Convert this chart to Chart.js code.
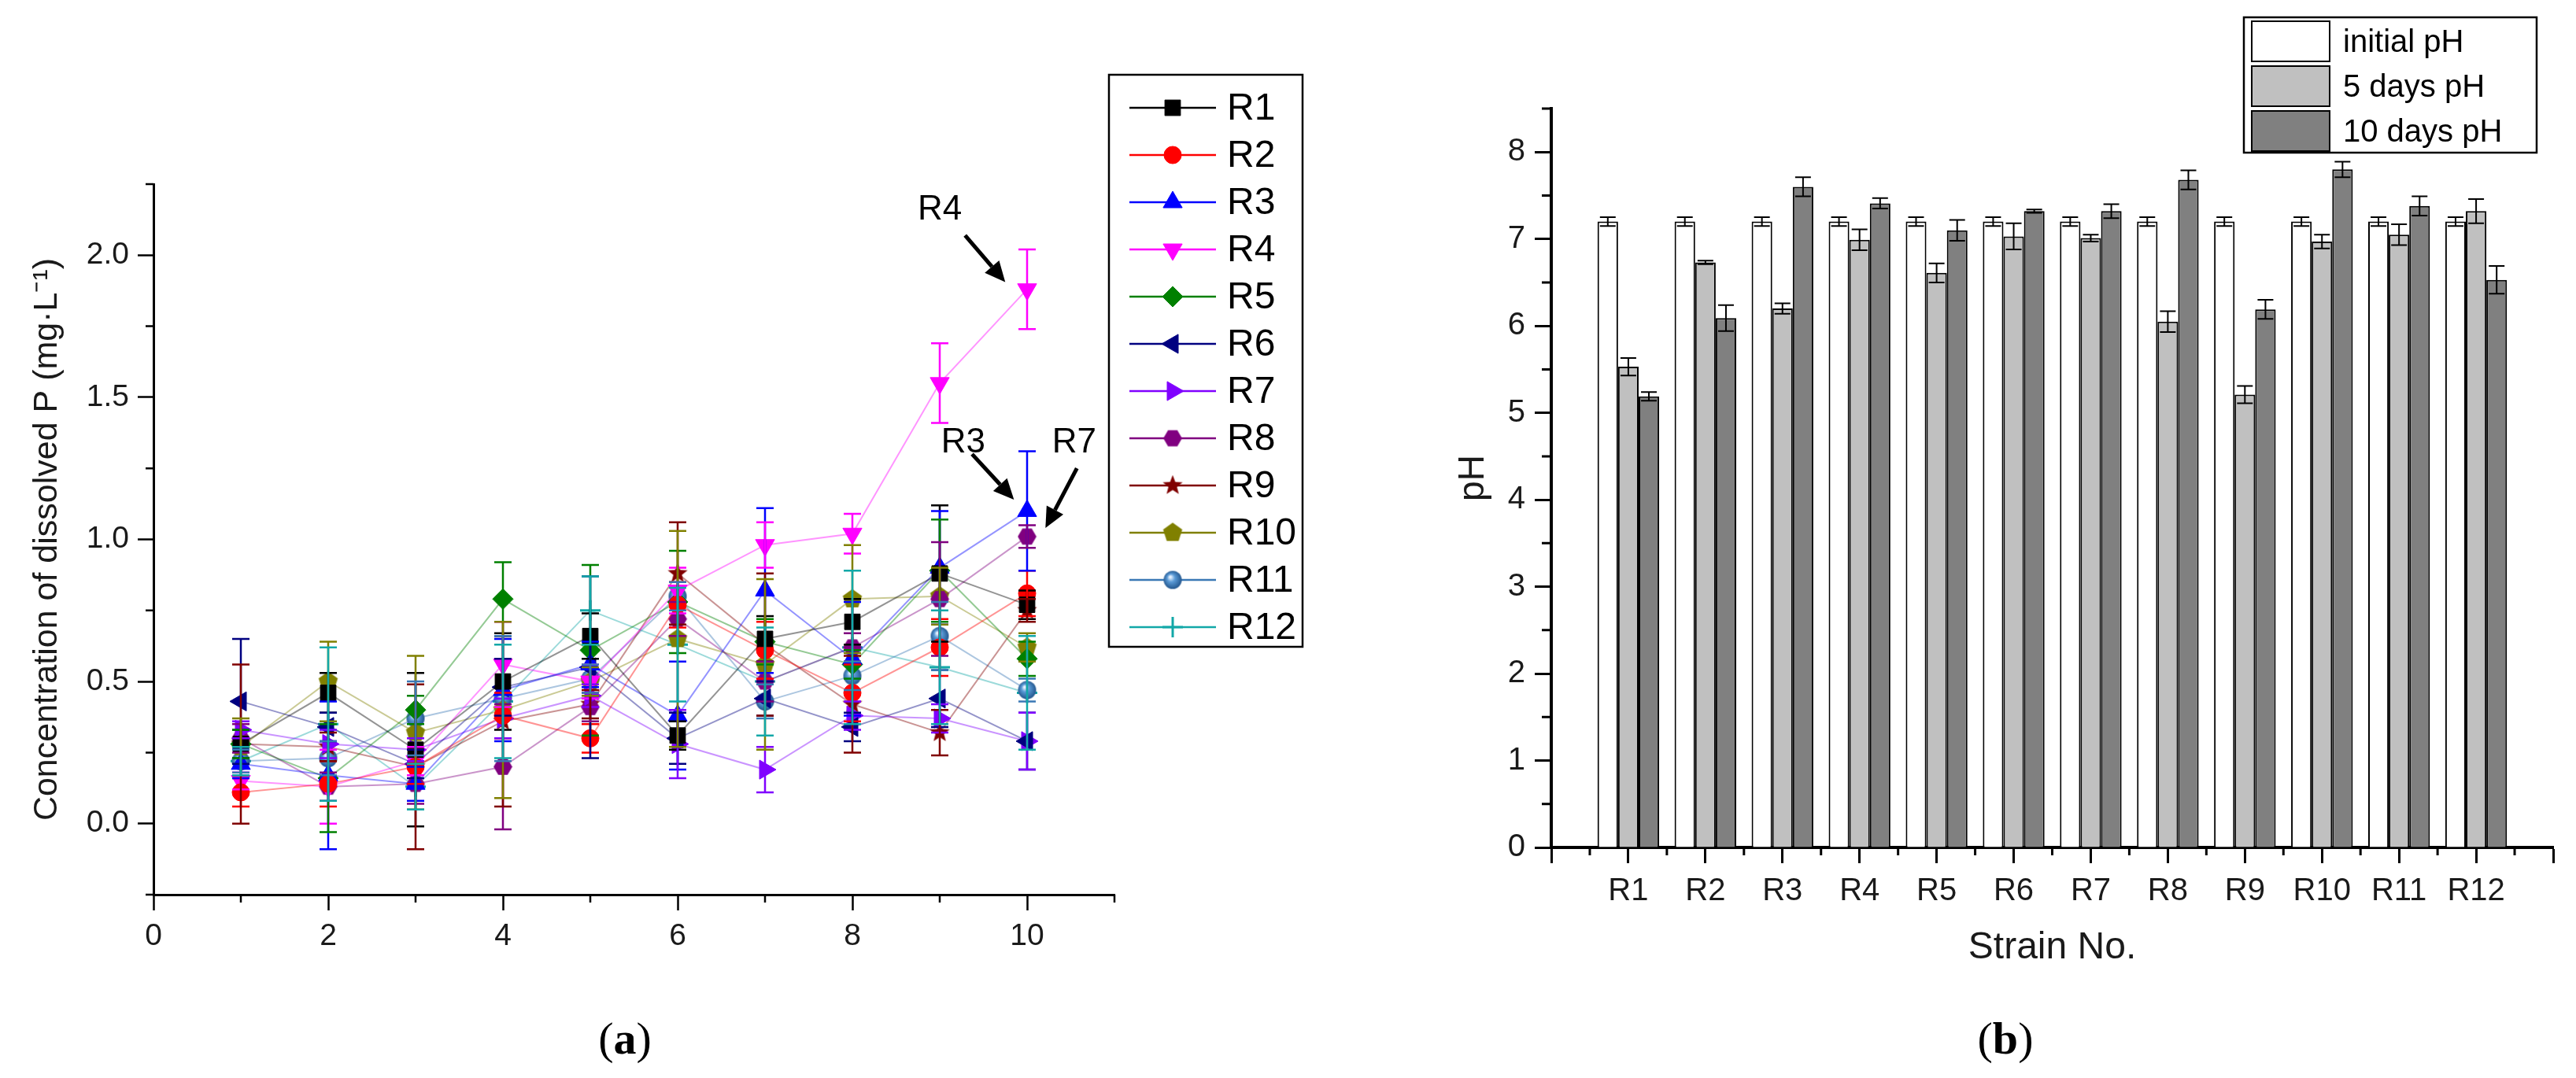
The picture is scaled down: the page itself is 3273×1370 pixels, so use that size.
<!DOCTYPE html>
<html>
<head>
<meta charset="utf-8">
<script src="https://cdn.jsdelivr.net/npm/chart.js@4.4.1/dist/chart.umd.min.js"></script>
<style>
  body { margin: 0; background: #fff; width: 3273px; height: 1370px; overflow: hidden; position: relative; }
  canvas { position: absolute; top: 0; }
  #phosphate { left: 0; }
  #ph { left: 1650px; }
  .caption { position: absolute; top: 1286px; transform: translateX(-50%); font-family: "Liberation Serif", "DejaVu Serif", serif; font-size: 58px; color: #000; }
</style>
</head>
<body>
<canvas id="phosphate" width="1660" height="1260"></canvas>
<canvas id="ph" width="1623" height="1260"></canvas>
<div class="caption" style="left:794px">(<b>a</b>)</div>
<div class="caption" style="left:2548px">(<b>b</b>)</div>

<script>
// ---- (a) dissolved P, mg/L, per sampling point ----
const days = [1, 2, 3, 4, 5, 6, 7, 8, 9, 10];
const strains = ["R1", "R2", "R3", "R4", "R5", "R6", "R7", "R8", "R9", "R10", "R11", "R12"];

const R1  = [0.28, 0.46, 0.26, 0.50, 0.66, 0.31, 0.65, 0.71, 0.88, 0.77];
const R2  = [0.11, 0.14, 0.20, 0.38, 0.30, 0.77, 0.61, 0.46, 0.62, 0.81];
const R3  = [0.21, 0.17, 0.14, 0.47, 0.56, 0.38, 0.82, 0.58, 0.90, 1.10];
const R4  = [0.15, 0.13, 0.22, 0.56, 0.50, 0.82, 0.98, 1.02, 1.55, 1.88];
const R5  = [0.28, 0.16, 0.40, 0.79, 0.61, 0.78, 0.64, 0.56, 0.89, 0.58];
const R6  = [0.43, 0.34, 0.21, 0.48, 0.55, 0.30, 0.44, 0.34, 0.44, 0.29];
const R7  = [0.33, 0.28, 0.26, 0.37, 0.45, 0.28, 0.19, 0.38, 0.37, 0.29];
const R8  = [0.30, 0.13, 0.14, 0.20, 0.41, 0.72, 0.50, 0.62, 0.79, 1.01];
const R9  = [0.28, 0.27, 0.20, 0.36, 0.42, 0.88, 0.63, 0.42, 0.32, 0.75];
const R10 = [0.27, 0.50, 0.32, 0.40, 0.50, 0.65, 0.56, 0.79, 0.80, 0.62];
const R11 = [0.22, 0.23, 0.37, 0.44, 0.51, 0.80, 0.43, 0.52, 0.66, 0.47];
const R12 = [0.22, 0.35, 0.13, 0.43, 0.75, 0.63, 0.50, 0.62, 0.55, 0.46];

const R1err  = [0.05, 0.07, 0.27, 0.17, 0.08, 0.05, 0.08, 0.08, 0.24, 0.05];
const R2err  = [0.05, 0.08, 0.06, 0.08, 0.05, 0.08, 0.10, 0.10, 0.10, 0.08];
const R3err  = [0.05, 0.26, 0.06, 0.18, 0.08, 0.19, 0.29, 0.20, 0.20, 0.21];
const R4err  = [0.03, 0.13, 0.05, 0.15, 0.06, 0.08, 0.08, 0.07, 0.14, 0.14];
const R5err  = [0.05, 0.19, 0.05, 0.13, 0.30, 0.18, 0.08, 0.05, 0.18, 0.06];
const R6err  = [0.22, 0.05, 0.05, 0.10, 0.32, 0.09, 0.06, 0.05, 0.10, 0.10];
const R7err  = [0.03, 0.05, 0.04, 0.07, 0.04, 0.12, 0.08, 0.05, 0.05, 0.10];
const R8err  = [0.05, 0.05, 0.07, 0.22, 0.05, 0.06, 0.07, 0.05, 0.20, 0.04];
const R9err  = [0.28, 0.05, 0.29, 0.30, 0.05, 0.18, 0.25, 0.17, 0.08, 0.04];
const R10err = [0.10, 0.14, 0.27, 0.31, 0.05, 0.38, 0.30, 0.19, 0.10, 0.05];
const R11err = [0.04, 0.06, 0.13, 0.22, 0.05, 0.05, 0.06, 0.05, 0.12, 0.04];
const R12err = [0.05, 0.27, 0.08, 0.20, 0.12, 0.20, 0.19, 0.27, 0.20, 0.20];

const seriesP = [R1, R2, R3, R4, R5, R6, R7, R8, R9, R10, R11, R12];
const seriesErr = [R1err, R2err, R3err, R4err, R5err, R6err, R7err, R8err, R9err, R10err, R11err, R12err];

// ---- (b) pH per strain ----
const initialPH    = [7.2, 7.2, 7.2, 7.2, 7.2, 7.2, 7.2, 7.2, 7.2, 7.2, 7.2, 7.2];
const initialPHErr = [0.05, 0.05, 0.05, 0.05, 0.05, 0.05, 0.05, 0.05, 0.05, 0.05, 0.05, 0.05];
const day5PH       = [5.53, 6.73, 6.20, 6.99, 6.61, 7.03, 7.01, 6.05, 5.21, 6.97, 7.05, 7.32];
const day5PHErr    = [0.10, 0.02, 0.06, 0.12, 0.11, 0.15, 0.04, 0.12, 0.10, 0.08, 0.12, 0.14];
const day10PH      = [5.19, 6.09, 7.60, 7.41, 7.10, 7.32, 7.32, 7.68, 6.19, 7.80, 7.38, 6.53];
const day10PHErr   = [0.05, 0.15, 0.11, 0.06, 0.12, 0.02, 0.08, 0.11, 0.11, 0.09, 0.11, 0.16];

// labelled callouts on (a), in data units
const callouts = [
  { text: "R4", at: [9.0, 2.16],  from: [9.29, 2.07],  to: [9.75, 1.905] },
  { text: "R3", at: [9.27, 1.34], from: [9.37, 1.30],  to: [9.85, 1.14] },
  { text: "R7", at: [10.54, 1.34], from: [10.57, 1.25], to: [10.21, 1.04] },
];

Chart.defaults.font.family = '"Liberation Sans", Arial, sans-serif';
Chart.defaults.color = "#1a1a1a";
Chart.defaults.animation = false;

function rgba(hex, a) {
  const n = parseInt(hex.slice(1), 16);
  return "rgba(" + (n >> 16) + "," + ((n >> 8) & 255) + "," + (n & 255) + "," + a + ")";
}

function makeMarker(size, draw) {
  const c = document.createElement("canvas");
  c.width = c.height = size;
  draw(c.getContext("2d"), size / 2);
  return c;
}

function polygon(g, r, n, color, rot) {
  g.beginPath();
  for (let k = 0; k < n; k++) {
    const a = rot + k * 2 * Math.PI / n;
    const px = r + r * 0.95 * Math.cos(a), py = r + r * 0.95 * Math.sin(a);
    if (k) g.lineTo(px, py); else g.moveTo(px, py);
  }
  g.closePath();
  g.fillStyle = color;
  g.fill();
}

const hexagon = makeMarker(25, (g, r) => polygon(g, r, 6, "#800080", 0));
const pentagon = makeMarker(27, (g, r) => polygon(g, r, 5, "#808000", -Math.PI / 2));
const star = makeMarker(27, (g, r) => {
  g.beginPath();
  for (let k = 0; k < 10; k++) {
    const a = -Math.PI / 2 + k * Math.PI / 5;
    const rr = k % 2 ? r * 0.42 : r * 0.98;
    const px = r + rr * Math.cos(a), py = r + rr * Math.sin(a);
    if (k) g.lineTo(px, py); else g.moveTo(px, py);
  }
  g.closePath();
  g.fillStyle = "#800000";
  g.fill();
});
const sphere = makeMarker(25, (g, r) => {
  const grad = g.createRadialGradient(r * 0.75, r * 0.7, 1, r, r, r);
  grad.addColorStop(0, "#e8f2ff");
  grad.addColorStop(0.35, "#5a9ad6");
  grad.addColorStop(1, "#1d4f86");
  g.beginPath();
  g.arc(r, r, r - 1, 0, Math.PI * 2);
  g.fillStyle = grad;
  g.fill();
});

const markers = [
  { color: "#000000", style: "rect", radius: 14 },
  { color: "#ff0000", style: "circle", radius: 11 },
  { color: "#0000ff", style: "triangle", radius: 14 },
  { color: "#ff00ff", style: "triangle", radius: 14, rotation: 180 },
  { color: "#008000", style: "rectRot", radius: 13 },
  { color: "#000080", style: "triangle", radius: 14, rotation: -90 },
  { color: "#8000ff", style: "triangle", radius: 14, rotation: 90 },
  { color: "#800080", style: hexagon, radius: 12 },
  { color: "#800000", style: star, radius: 12 },
  { color: "#808000", style: pentagon, radius: 12 },
  { color: "#3a78b5", style: sphere, radius: 12 },
  { color: "#12a8a8", style: "cross", radius: 13 },
];

function drawMarker(ctx, ds, x, y) {
  const opts = { pointStyle: ds.pointStyle, radius: ds.pointRadius, rotation: ds.pointRotation, borderWidth: ds.pointBorderWidth };
  ctx.fillStyle = ds.pointBackgroundColor;
  ctx.strokeStyle = ds.pointBorderColor;
  ctx.lineWidth = ds.pointBorderWidth;
  Chart.helpers.drawPoint(ctx, opts, x, y);
}

const errorBars = {
  id: "errorBars",
  afterDatasetsDraw(chart, args, opts) {
    const { ctx } = chart;
    const yScale = chart.scales.y;
    ctx.save();
    chart.data.datasets.forEach((ds, i) => {
      if (!ds.errors) return;
      const meta = chart.getDatasetMeta(i);
      ctx.strokeStyle = opts.color || ds.pointBorderColor;
      ctx.lineWidth = opts.lineWidth;
      meta.data.forEach((el, j) => {
        const raw = ds.data[j];
        const v = raw !== null && typeof raw === "object" ? raw.y : raw;
        const e = ds.errors[j];
        if (v == null || e == null) return;
        const top = yScale.getPixelForValue(v + e);
        const bot = yScale.getPixelForValue(v - e);
        const w = opts.capWidth / 2;
        ctx.beginPath();
        ctx.moveTo(el.x, top); ctx.lineTo(el.x, bot);
        ctx.moveTo(el.x - w, top); ctx.lineTo(el.x + w, top);
        ctx.moveTo(el.x - w, bot); ctx.lineTo(el.x + w, bot);
        ctx.stroke();
      });
    });
    ctx.restore();
  }
};

// short ticks between the labelled ones
function isStep(v, every) {
  const q = v / every;
  return Math.abs(q - Math.round(q)) < 1e-6;
}

const minorTicks = {
  id: "minorTicks",
  afterDraw(chart, args, opts) {
    const { ctx } = chart;
    const x = chart.scales.x, y = chart.scales.y;
    ctx.save();
    ctx.strokeStyle = "#000";
    ctx.lineWidth = opts.width;
    ctx.beginPath();
    for (const t of y.ticks) {
      if (isStep(t.value, opts.yEvery)) continue;
      const p = y.getPixelForValue(t.value);
      ctx.moveTo(y.right, p); ctx.lineTo(y.right - opts.yLength, p);
    }
    if (opts.xHalf) {
      for (let i = x.min; i < x.max; i++) {
        const p = x.getPixelForValue(i + 0.5);
        ctx.moveTo(p, x.top); ctx.lineTo(p, x.top + opts.xLength);
      }
    } else {
      for (const t of x.ticks) {
        if (isStep(t.value, opts.xEvery)) continue;
        const p = x.getPixelForValue(t.value);
        ctx.moveTo(p, x.top); ctx.lineTo(p, x.top + opts.xLength);
      }
    }
    ctx.stroke();
    ctx.restore();
  }
};

const seriesLegend = {
  id: "seriesLegend",
  afterDraw(chart, args, o) {
    const { ctx } = chart;
    ctx.save();
    ctx.lineWidth = 2.5;
    ctx.strokeStyle = "#000";
    ctx.strokeRect(o.left, o.top, o.width, o.height);
    ctx.font = o.fontSize + 'px "Liberation Sans", Arial, sans-serif';
    ctx.textBaseline = "middle";
    chart.data.datasets.forEach((ds, i) => {
      const y = o.top + o.firstRow + i * o.rowHeight;
      ctx.strokeStyle = ds.pointBorderColor;
      ctx.lineWidth = 2.5;
      ctx.beginPath();
      ctx.moveTo(o.left + o.lineStart, y);
      ctx.lineTo(o.left + o.lineEnd, y);
      ctx.stroke();
      drawMarker(ctx, ds, o.left + (o.lineStart + o.lineEnd) / 2, y);
      ctx.fillStyle = "#000";
      ctx.fillText(ds.label, o.left + o.textX, y + 2);
    });
    ctx.restore();
  }
};

const callout = {
  id: "callout",
  afterDraw(chart, args, o) {
    const { ctx } = chart;
    const xs = chart.scales.x, ys = chart.scales.y;
    const px = p => [xs.getPixelForValue(p[0]), ys.getPixelForValue(p[1])];
    ctx.save();
    ctx.fillStyle = "#000";
    ctx.strokeStyle = "#000";
    ctx.font = o.fontSize + 'px "Liberation Sans", Arial, sans-serif';
    ctx.textAlign = "center";
    ctx.textBaseline = "middle";
    for (const c of callouts) {
      const [tx, ty] = px(c.at);
      ctx.fillText(c.text, tx, ty);
      const [x0, y0] = px(c.from), [x1, y1] = px(c.to);
      const a = Math.atan2(y1 - y0, x1 - x0);
      const bx = x1 - o.head * Math.cos(a), by = y1 - o.head * Math.sin(a);
      ctx.lineWidth = 5;
      ctx.beginPath();
      ctx.moveTo(x0, y0); ctx.lineTo(bx, by);
      ctx.stroke();
      ctx.beginPath();
      ctx.moveTo(x1, y1);
      ctx.lineTo(bx + o.headHalf * Math.sin(a), by - o.headHalf * Math.cos(a));
      ctx.lineTo(bx - o.headHalf * Math.sin(a), by + o.headHalf * Math.cos(a));
      ctx.closePath();
      ctx.fill();
    }
    ctx.restore();
  }
};

const barLegend = {
  id: "barLegend",
  afterDraw(chart, args, o) {
    const { ctx } = chart;
    ctx.save();
    ctx.lineWidth = 2.5;
    ctx.strokeStyle = "#000";
    ctx.strokeRect(o.left, o.top, o.width, o.height);
    ctx.font = o.fontSize + 'px "Liberation Sans", Arial, sans-serif';
    ctx.textBaseline = "middle";
    chart.data.datasets.forEach((ds, i) => {
      const y = o.top + o.firstRow + i * o.rowHeight;
      ctx.fillStyle = ds.backgroundColor;
      ctx.fillRect(o.left + o.boxX, y, o.boxW, o.boxH);
      ctx.lineWidth = 2;
      ctx.strokeRect(o.left + o.boxX, y, o.boxW, o.boxH);
      ctx.fillStyle = "#000";
      ctx.fillText(ds.label, o.left + o.textX, y + o.boxH / 2 + 2);
    });
    ctx.restore();
  }
};

// ---------- chart (a) ----------
const pDatasets = seriesP.map((vals, i) => {
  const m = markers[i];
  return {
    label: strains[i],
    data: days.map((d, j) => ({ x: d, y: vals[j] })),
    errors: seriesErr[i],
    borderColor: rgba(m.color, 0.42),
    borderWidth: 2,
    pointStyle: m.style,
    pointRadius: m.radius,
    pointRotation: m.rotation || 0,
    pointBackgroundColor: m.color,
    pointBorderColor: m.color,
    pointBorderWidth: m.style === "cross" ? 3 : 1,
    tension: 0,
  };
});

new Chart(document.getElementById("phosphate"), {
  type: "line",
  data: { datasets: pDatasets },
  plugins: [errorBars, minorTicks, seriesLegend, callout],
  options: {
    responsive: false,
    layout: { padding: { left: 0, top: 234, right: 244, bottom: 0 } },
    scales: {
      x: {
        type: "linear",
        min: 0, max: 11,
        afterFit(s) { s.height = 123; },
        border: { color: "#000", width: 3 },
        grid: {
          drawOnChartArea: false, tickLength: 20, tickWidth: 2.5,
          tickColor: c => (isStep(c.tick.value, 2) ? "#000" : "rgba(0,0,0,0)"),
        },
        ticks: {
          stepSize: 1, autoSkip: false, maxRotation: 0, padding: 10,
          font: { size: 39 },
          callback: v => (isStep(v, 2) ? v : ""),
        },
      },
      y: {
        min: -0.25, max: 2.25,
        afterFit(s) { s.width = 195; },
        border: { color: "#000", width: 3 },
        grid: {
          drawOnChartArea: false, tickLength: 20, tickWidth: 2.5,
          tickColor: c => (isStep(c.tick.value, 0.5) ? "#000" : "rgba(0,0,0,0)"),
        },
        ticks: {
          stepSize: 0.25, autoSkip: false, padding: 11,
          font: { size: 39 },
          callback: v => (isStep(v, 0.5) ? v.toFixed(1) : ""),
        },
        title: {
          display: true,
          text: "Concentration of dissolved P (mg\u00B7L\u207B\u00B9)",
          font: { size: 43 },
          color: "#1a1a1a",
          padding: { top: 34, bottom: 0 },
        },
      },
    },
    plugins: {
      legend: { display: false },
      tooltip: { enabled: false },
      errorBars: { capWidth: 22, lineWidth: 2.5 },
      minorTicks: { width: 2.5, yEvery: 0.5, yLength: 10, xEvery: 2, xLength: 10 },
      seriesLegend: { left: 1409, top: 95, width: 246, height: 727, firstRow: 42, rowHeight: 60, lineStart: 26, lineEnd: 136, textX: 150, fontSize: 48 },
      callout: { fontSize: 44, head: 26, headHalf: 12 },
    },
  },
});

// ---------- chart (b) ----------
const pad = a => [null, ...a, null];

new Chart(document.getElementById("ph"), {
  type: "bar",
  data: {
    labels: ["", ...strains, ""],
    datasets: [
      { label: "initial pH", data: pad(initialPH), errors: pad(initialPHErr), backgroundColor: "#ffffff" },
      { label: "5 days pH", data: pad(day5PH), errors: pad(day5PHErr), backgroundColor: "#c0c0c0" },
      { label: "10 days pH", data: pad(day10PH), errors: pad(day10PHErr), backgroundColor: "#808080" },
    ],
  },
  plugins: [errorBars, minorTicks, barLegend],
  options: {
    responsive: false,
    layout: { padding: { left: 180, top: 138, right: 29, bottom: 0 } },
    datasets: { bar: { borderColor: "#000", borderWidth: 2, barPercentage: 1, categoryPercentage: 0.8 } },
    scales: {
      x: {
        offset: false,
        afterFit(s) { s.height = 183; },
        border: { color: "#000", width: 4 },
        grid: { offset: false, drawOnChartArea: false, tickLength: 20, tickWidth: 3, tickColor: "#000" },
        ticks: { autoSkip: false, maxRotation: 0, padding: 12, font: { size: 40 } },
        title: { display: true, text: "Strain No.", font: { size: 48 }, color: "#1a1a1a", padding: { top: 0, bottom: 26 } },
      },
      y: {
        min: 0, max: 8.5,
        afterFit(s) { s.width = 141; },
        border: { color: "#000", width: 4 },
        grid: {
          drawOnChartArea: false, tickLength: 21, tickWidth: 3,
          tickColor: c => (Number.isInteger(c.tick.value) ? "#000" : "rgba(0,0,0,0)"),
        },
        ticks: {
          stepSize: 0.5, autoSkip: false, padding: 12,
          font: { size: 40 },
          callback: v => (Number.isInteger(v) ? v : ""),
        },
        title: { display: true, text: "pH", font: { size: 46 }, color: "#1a1a1a", padding: { top: 15, bottom: 0 } },
      },
    },
    plugins: {
      legend: { display: false },
      tooltip: { enabled: false },
      errorBars: { capWidth: 20, lineWidth: 2, color: "#000" },
      minorTicks: { width: 3, yEvery: 1, yLength: 12, xHalf: true, xLength: 10 },
      barLegend: { left: 1201, top: 22, width: 372, height: 172, firstRow: 5, rowHeight: 57, boxX: 10, boxW: 99, boxH: 51, textX: 126, fontSize: 40 },
    },
  },
});
</script>
</body>
</html>
